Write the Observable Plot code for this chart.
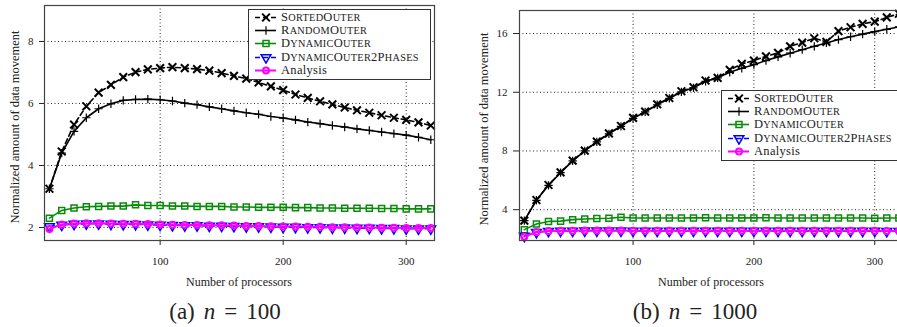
<!DOCTYPE html>
<html>
<head>
<meta charset="utf-8">
<script src="https://cdn.jsdelivr.net/npm/d3@7"></script>
<script src="https://cdn.jsdelivr.net/npm/@observablehq/plot@0.6"></script>
<style>
  html, body { margin: 0; padding: 0; background: #fff; }
  #wrap { position: relative; width: 897px; height: 327px; overflow: hidden; font-family: "Liberation Serif", serif; color: #222; }
  .plot { position: absolute; top: 0; }
  .ylab { position: absolute; font-size: 12.5px; white-space: nowrap; transform: translate(-50%, -50%) rotate(-90deg); }
  .xlab { position: absolute; font-size: 12px; white-space: nowrap; transform: translate(-50%, -50%); }
  .cap { position: absolute; font-size: 23px; white-space: nowrap; transform: translate(-50%, -50%); }
  .cap .sp { display: inline-block; width: 9px; }
  .legend { position: absolute; background: #fff; border: 1px solid #333; width: 183px; height: 71px; box-sizing: border-box; padding-top: 1px; }
  .legend .row { height: 13.2px; display: flex; align-items: center; font-size: 12.5px; white-space: nowrap; letter-spacing: 0.3px; }
  .legend .sc { font-size: 0.82em; }
  .legend svg { margin-left: 4px; margin-right: 4px; flex: none; }
</style>
</head>
<body>
<div id="wrap"></div>
<script>
// ---------- data ----------
const processors = [10,20,30,40,50,60,70,80,90,100,110,120,130,140,150,160,170,180,190,200,210,220,230,240,250,260,270,280,290,300,310,320];

const seriesNames = ["SortedOuter","RandomOuter","DynamicOuter","DynamicOuter2Phases","Analysis"];
const smallCapsNames = [true, true, true, true, false];

// (a) n = 100
const sortedA  = [3.25,4.45,5.32,5.91,6.35,6.6,6.85,7.01,7.1,7.14,7.17,7.14,7.11,7.06,6.98,6.89,6.8,6.68,6.55,6.43,6.29,6.18,6.07,5.97,5.87,5.78,5.7,5.62,5.54,5.47,5.39,5.29];
const randomA  = [3.25,4.4,5.1,5.54,5.83,5.99,6.1,6.13,6.14,6.12,6.08,6.01,5.96,5.89,5.83,5.76,5.7,5.65,5.58,5.53,5.47,5.4,5.35,5.29,5.24,5.18,5.13,5.08,5.03,4.98,4.91,4.83];
const dynamicA = [2.3,2.55,2.63,2.67,2.68,2.69,2.69,2.73,2.71,2.71,2.69,2.69,2.68,2.68,2.68,2.66,2.66,2.65,2.65,2.65,2.64,2.64,2.63,2.63,2.62,2.62,2.62,2.61,2.61,2.6,2.6,2.6];
const twoPhA   = [2.03,2.08,2.11,2.12,2.12,2.11,2.1,2.1,2.09,2.08,2.07,2.06,2.06,2.05,2.05,2.04,2.03,2.03,2.02,2.01,2.01,2.0,2.0,1.99,1.99,1.98,1.98,1.97,1.97,1.96,1.96,1.96];
const analysisA= [1.95,2.1,2.13,2.14,2.14,2.13,2.12,2.12,2.11,2.1,2.09,2.08,2.08,2.07,2.07,2.06,2.05,2.05,2.04,2.03,2.03,2.02,2.02,2.01,2.01,2.0,2.0,1.99,1.99,1.98,1.98,1.98];

// (b) n = 1000
const sortedB  = [3.25,4.66,5.68,6.54,7.34,8.02,8.64,9.2,9.7,10.25,10.68,11.18,11.61,12.07,12.34,12.8,12.98,13.52,13.93,14.16,14.45,14.68,15.13,15.38,15.68,15.43,16.16,16.43,16.66,16.81,17.1,17.35];
const randomB  = [3.25,4.64,5.66,6.52,7.32,8.0,8.62,9.17,9.68,10.22,10.66,11.15,11.58,12.03,12.3,12.74,12.98,13.36,13.63,13.88,14.16,14.41,14.66,14.9,15.13,15.36,15.59,15.78,15.96,16.13,16.29,16.45];
const dynamicB = [2.64,3.02,3.2,3.22,3.32,3.36,3.4,3.42,3.48,3.43,3.43,3.43,3.43,3.43,3.44,3.45,3.43,3.43,3.44,3.44,3.45,3.43,3.43,3.43,3.43,3.43,3.43,3.43,3.43,3.42,3.43,3.43];
const twoPhB   = [2.2,2.46,2.53,2.55,2.55,2.56,2.56,2.56,2.56,2.55,2.55,2.55,2.55,2.55,2.55,2.55,2.55,2.55,2.55,2.55,2.55,2.54,2.54,2.54,2.54,2.54,2.54,2.54,2.54,2.54,2.53,2.53];
const analysisB= [2.16,2.48,2.55,2.57,2.57,2.58,2.58,2.58,2.58,2.57,2.57,2.57,2.57,2.57,2.57,2.57,2.57,2.57,2.57,2.57,2.57,2.56,2.56,2.56,2.56,2.56,2.56,2.56,2.56,2.56,2.55,2.55];

const xTicks = [100,200,300];
const yTicksA = [2,4,6,8];
const yTicksB = [4,8,12,16];

const xLabel = "Number of processors";
const yLabel = "Normalized amount of data movement";

// ---------- styles ----------
const styles = [
  {color:"#000", dash:"5,3", symbol:"times", r:3.6, sw:2.0, lw:1.6, rotate:0},
  {color:"#000", dash:null,  symbol:"plus",  r:2.8, sw:1.2, lw:1.6, rotate:0},
  {color:"#0a8a0a", dash:null, symbol:"square", r:3.4, sw:1.5, lw:1.6, rotate:0},
  {color:"#0000ff", dash:"5,3", symbol:"triangle", r:3.6, sw:1.5, lw:1.6, rotate:180},
  {color:"#ff00ff", dash:null, symbol:"circle", r:3.0, sw:2.0, lw:2.0, rotate:0}
];

const FONT = '"Liberation Serif", serif';

function chart({series, yDomain, yTicks, width, marginTop, tickSize}) {
  const marks = [
    Plot.ruleX(xTicks, {stroke:"#000", strokeDasharray:"1,2.5", strokeOpacity:0.85}),
    Plot.ruleY(yTicks, {stroke:"#000", strokeDasharray:"1,2.5", strokeOpacity:0.85})
  ];
  series.forEach((vals, k) => {
    const s = styles[k];
    const rows = processors.map((x, i) => ({x, y: vals[i]}));
    marks.push(Plot.line(rows, {x:"x", y:"y", stroke:s.color, strokeWidth:s.lw, strokeDasharray:s.dash || undefined}));
    marks.push(Plot.dot(rows, {x:"x", y:"y", symbol:s.symbol, r:s.r, stroke:s.color, strokeWidth:s.sw, fill:"none", rotate:s.rotate}));
  });
  marks.push(Plot.frame({stroke:"#444", strokeWidth:1.2}));
  return Plot.plot({
    width, height: 275,
    marginLeft: 44, marginRight: 6, marginTop, marginBottom: 35,
    style: {fontFamily: FONT, fontSize: "11px", color: "#222", background: "transparent"},
    x: {domain: [6, 323], ticks: xTicks, tickSize: 5, tickPadding: 12, label: null},
    y: {domain: yDomain, ticks: yTicks, tickSize: tickSize, tickPadding: 6, label: null},
    marks
  });
}

const wrap = document.getElementById("wrap");

const pA = chart({series:[sortedA, randomA, dynamicA, twoPhA, analysisA], yDomain:[1.58, 9.16], yTicks:yTicksA, width:440, marginTop:5, tickSize:5});
pA.classList.add("plot"); pA.style.left = "0px";
wrap.appendChild(pA);

const pB = chart({series:[sortedB, randomB, dynamicB, twoPhB, analysisB], yDomain:[1.9, 17.57], yTicks:yTicksB, width:433, marginTop:10, tickSize:6});
pB.classList.add("plot"); pB.style.left = "475px";
wrap.appendChild(pB);

function addText(cls, html, x, y) {
  const d = document.createElement("div");
  d.className = cls; d.innerHTML = html;
  d.style.left = x + "px"; d.style.top = y + "px";
  wrap.appendChild(d);
}
addText("ylab", yLabel, 15, 127);
addText("ylab", yLabel, 484, 129);
addText("xlab", xLabel, 239, 282);
addText("xlab", xLabel, 711, 282);
addText("cap", '(a)<span class="sp"></span><i>n</i><span class="sp"></span>=<span class="sp"></span>100', 225, 312);
addText("cap", '(b)<span class="sp"></span><i>n</i><span class="sp"></span>=<span class="sp"></span>1000', 695, 312);

function smallCaps(name) {
  return name.split("").map(ch =>
    (ch >= "a" && ch <= "z") ? `<span class="sc">${ch.toUpperCase()}</span>` : ch
  ).join("");
}

const symTypes = {times: d3.symbolTimes, plus: d3.symbolPlus, square: d3.symbolSquare, triangle: d3.symbolTriangle, circle: d3.symbolCircle};
function legend(x, y) {
  const box = document.createElement("div");
  box.className = "legend";
  box.style.left = x + "px"; box.style.top = y + "px";
  seriesNames.forEach((name, k) => {
    const s = styles[k];
    const row = document.createElement("div");
    row.className = "row";
    const path = d3.symbol(symTypes[s.symbol], Math.PI * s.r * s.r)();
    row.innerHTML =
      `<svg width="24" height="13"><line x1="2" x2="23" y1="6.5" y2="6.5" stroke="${s.color}" stroke-width="${s.lw}" ${s.dash ? `stroke-dasharray="${s.dash}"` : ""}/>` +
      `<path d="${path}" transform="translate(13,6.5) rotate(${s.rotate})" fill="none" stroke="${s.color}" stroke-width="${s.sw}"/></svg>` +
      `<span>${smallCapsNames[k] ? smallCaps(name) : name}</span>`;
    box.appendChild(row);
  });
  wrap.appendChild(box);
}
legend(248, 9);
legend(721, 90);
</script>
</body>
</html>
